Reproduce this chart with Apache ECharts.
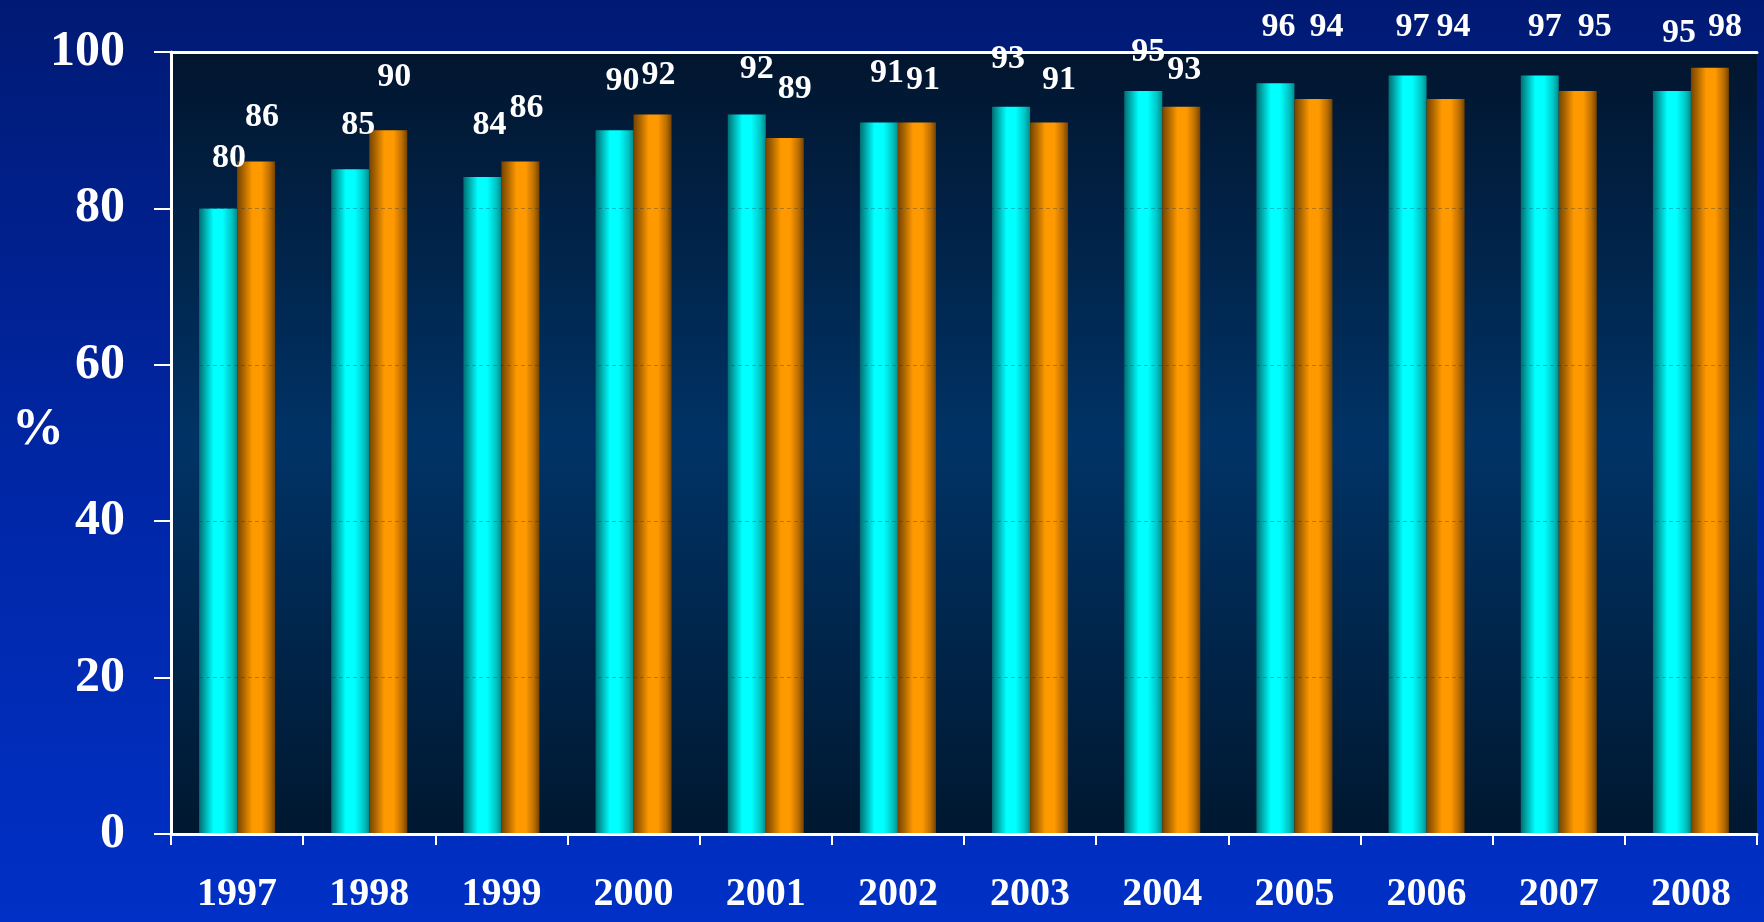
<!DOCTYPE html>
<html>
<head>
<meta charset="utf-8">
<script src="https://cdn.jsdelivr.net/npm/echarts@6/dist/echarts.min.js"></script>
<style>
  html, body { margin: 0; padding: 0; width: 1764px; height: 922px; overflow: hidden; background: #0026a0; }
  #chart { width: 1764px; height: 922px; }
</style>
</head>
<body>
<div id="chart"></div>
<script>
// Yearly percentages for the two groups
const years = ['1997', '1998', '1999', '2000', '2001', '2002', '2003', '2004', '2005', '2006', '2007', '2008'];
const seriesCyan = [80, 85, 84, 90, 92, 91, 93, 95, 96, 97, 97, 95];
const seriesOrange = [86, 90, 86, 92, 89, 91, 91, 93, 94, 94, 95, 98];
const yTickValues = [0, 20, 40, 60, 80, 100];

// Hand-placed label nudges [dx, dy] in pixels, relative to the top centre of each bar
const labelNudgeCyan = [[11, -50], [8, -44], [7, -52], [8, -49], [10, -45], [8, -49], [-3, -48], [5, -39], [3, -56], [5, -48], [5, -48], [7, -58]];
const labelNudgeOrange = [[6, -44], [6, -53], [6, -53], [6, -39], [10, -49], [6, -42], [10, -42], [3, -37], [13, -72], [8, -72], [17, -64], [15, -40]];

const serif = '"Liberation Serif", "Times New Roman", serif';

function cylinder(stops) {
  return {
    type: 'linear', x: 0, y: 0, x2: 1, y2: 0,
    colorStops: stops.map(s => ({ offset: s[0], color: s[1] }))
  };
}

const cyanFill = cylinder([
  [0, '#006e72'], [0.14, '#00a4a6'], [0.38, '#00ffff'], [0.62, '#00ffff'], [0.86, '#00c4c4'], [1, '#008c8e']
]);
const orangeFill = cylinder([
  [0, '#764400'], [0.18, '#b06800'], [0.4, '#ff9900'], [0.64, '#ff9900'], [0.86, '#bc6e00'], [1, '#744400']
]);

const valueLabel = {
  show: true,
  position: 'top',
  distance: 0,
  align: 'center',
  verticalAlign: 'middle',
  color: '#ffffff',
  fontFamily: serif,
  fontWeight: 'bold',
  fontSize: 34
};

function withNudges(values, nudges) {
  return values.map((v, i) => ({ value: v, label: { offset: nudges[i] } }));
}

const chart = echarts.init(document.getElementById('chart'), null, { renderer: 'canvas' });

chart.setOption({
  animation: false,
  backgroundColor: {
    type: 'linear', x: 0, y: 0, x2: 0, y2: 1,
    colorStops: [
      { offset: 0, color: '#001a74' },
      { offset: 0.5, color: '#0026a4' },
      { offset: 1, color: '#0030c6' }
    ]
  },
  title: {
    text: '%',
    left: 12,
    top: 405,
    padding: 0,
    textStyle: { color: '#ffffff', fontFamily: serif, fontWeight: 'bold', fontSize: 52 }
  },
  grid: {
    left: 171,
    right: 7,
    top: 52,
    bottom: 88,
    show: true,
    borderWidth: 0,
    backgroundColor: {
      type: 'linear', x: 0, y: 0, x2: 0, y2: 1,
      colorStops: [
        { offset: 0, color: '#02152e' },
        { offset: 0.5, color: '#003366' },
        { offset: 1, color: '#001830' }
      ]
    }
  },
  xAxis: [
    {
      type: 'category',
      data: years,
      position: 'bottom',
      z: 4,
      axisLine: { show: true, lineStyle: { color: '#ffffff', width: 3 } },
      axisTick: { show: true, length: 11, lineStyle: { color: '#ffffff', width: 2 } },
      axisLabel: {
        color: '#ffffff', fontFamily: serif, fontWeight: 'bold', fontSize: 40, margin: 41
      }
    },
    {
      // white rule along the top of the plot
      type: 'category',
      data: years,
      position: 'top',
      z: 4,
      axisLine: { show: true, lineStyle: { color: '#ffffff', width: 3 } },
      axisTick: { show: false },
      axisLabel: { show: false }
    }
  ],
  yAxis: {
    type: 'value',
    min: yTickValues[0],
    max: yTickValues[yTickValues.length - 1],
    interval: yTickValues[1] - yTickValues[0],
    z: 3,
    axisLine: { show: true, lineStyle: { color: '#ffffff', width: 3 } },
    axisTick: { show: true, length: 17, lineStyle: { color: '#ffffff', width: 2 } },
    axisLabel: {
      color: '#ffffff', fontFamily: serif, fontWeight: 'bold', fontSize: 50, margin: 46
    },
    splitLine: {
      show: true,
      lineStyle: { color: 'rgba(0, 44, 90, 0.3)', width: 1, type: [4, 3] }
    }
  },
  series: [
    {
      type: 'bar',
      data: withNudges(seriesCyan, labelNudgeCyan),
      barWidth: 38,
      barGap: '0%',
      itemStyle: { color: cyanFill },
      label: valueLabel
    },
    {
      type: 'bar',
      data: withNudges(seriesOrange, labelNudgeOrange),
      barWidth: 38,
      barGap: '0%',
      itemStyle: { color: orangeFill },
      label: valueLabel
    }
  ]
});
</script>
</body>
</html>
